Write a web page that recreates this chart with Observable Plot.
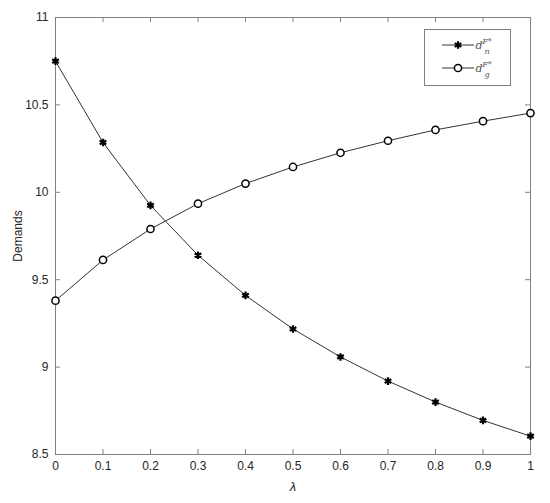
<!DOCTYPE html>
<html><head><meta charset="utf-8">
<script src="https://cdn.jsdelivr.net/npm/d3@7"></script>
<script src="https://cdn.jsdelivr.net/npm/@observablehq/plot@0.6"></script>
<style>body{margin:0;background:#fff}</style>
</head><body><div id="chart"></div>
<script>
const lambda = [0, 0.1, 0.2, 0.3, 0.4, 0.5, 0.6, 0.7, 0.8, 0.9, 1];
const demandN = [10.75, 10.285, 9.925, 9.64, 9.41, 9.218, 9.058, 8.92, 8.80, 8.695, 8.605];
const demandG = [9.38, 9.613, 9.79, 9.935, 10.05, 10.145, 10.226, 10.295, 10.357, 10.407, 10.453];
const xTicks = [0, 0.1, 0.2, 0.3, 0.4, 0.5, 0.6, 0.7, 0.8, 0.9, 1];
const yTicks = [8.5, 9, 9.5, 10, 10.5, 11];
const seriesSub = ["n", "g"];

const W = 550, H = 503, mL = 55, mR = 20, mT = 17, mB = 49;
const yMin = 8.5, yMax = 11;
const xTickLen = 5 / (H - mT - mB) * (yMax - yMin);
const yTickLen = 5 / (W - mL - mR);
const rowsN = lambda.map((x, i) => ({x, y: demandN[i]}));
const rowsG = lambda.map((x, i) => ({x, y: demandG[i]}));
const axisColor = "#808080";

const plot = Plot.plot({
  width: W, height: H,
  marginLeft: mL, marginRight: mR, marginTop: mT, marginBottom: mB,
  style: {fontFamily: "'Liberation Sans', Arial, sans-serif", fontSize: "12px", color: "#262626", background: "#fff"},
  x: {domain: [0, 1]},
  y: {domain: [yMin, yMax]},
  marks: [
    Plot.frame({stroke: axisColor}),
    Plot.ruleX(xTicks, {x: d => d, y1: yMin, y2: yMin + xTickLen, stroke: axisColor}),
    Plot.ruleX(xTicks, {x: d => d, y1: yMax, y2: yMax - xTickLen, stroke: axisColor}),
    Plot.ruleY(yTicks, {y: d => d, x1: 0, x2: yTickLen, stroke: axisColor}),
    Plot.ruleY(yTicks, {y: d => d, x1: 1, x2: 1 - yTickLen, stroke: axisColor}),
    Plot.axisX({ticks: xTicks, tickSize: 0, tickPadding: 7, tickFormat: d => String(d),
      label: "λ", labelAnchor: "center", labelArrow: "none", labelOffset: 36}),
    Plot.axisY({ticks: yTicks, tickSize: 0, tickPadding: 7, tickFormat: d => String(d),
      label: "Demands", labelAnchor: "center", labelArrow: "none", labelOffset: 42}),
    Plot.line(rowsN, {x: "x", y: "y", stroke: "#333", strokeWidth: 1}),
    Plot.line(rowsG, {x: "x", y: "y", stroke: "#333", strokeWidth: 1}),
    Plot.dot(rowsN, {x: "x", y: "y", symbol: "asterisk", r: 3.6, stroke: "#000", strokeWidth: 2.2}),
    Plot.dot(rowsG, {x: "x", y: "y", symbol: "circle", r: 3.6, stroke: "#000", fill: "#fff", strokeWidth: 1.5})
  ]
});
document.getElementById("chart").appendChild(plot);

const svg = d3.select(plot);
svg.selectAll('[aria-label="x-axis label"] text').style("font-style", "italic").style("font-size", "13px");

// Legend
const lg = svg.append("g");
lg.append("rect").attr("x", 424.5).attr("y", 29.5).attr("width", 86).attr("height", 56)
  .attr("fill", "#fff").attr("stroke", axisColor);
const entries = [45, 68];
entries.forEach((yy, i) => {
  lg.append("line").attr("x1", 442).attr("x2", 474).attr("y1", yy).attr("y2", yy).attr("stroke", "#333");
  const t = lg.append("text").attr("x", 479).attr("y", yy + 4)
    .attr("font-family", "'DejaVu Serif', serif").attr("font-style", "italic").attr("font-size", 11).attr("fill", "#555");
  t.append("tspan").text("d");
  t.append("tspan").attr("x", 487).attr("y", yy - 1).attr("font-size", 8).text("F*");
  t.append("tspan").attr("x", 487).attr("y", yy + 9).attr("font-size", 8).text(seriesSub[i]);
});
const starPath = d3.symbol(d3.symbolAsterisk, Math.PI * 3.6 * 3.6)();
lg.append("path").attr("d", starPath).attr("transform", "translate(458,45)").attr("stroke", "#000").attr("stroke-width", 2.2).attr("fill", "none");
lg.append("circle").attr("cx", 458).attr("cy", 68).attr("r", 3.6).attr("stroke", "#000").attr("stroke-width", 1.5).attr("fill", "#fff");
</script></body></html>
